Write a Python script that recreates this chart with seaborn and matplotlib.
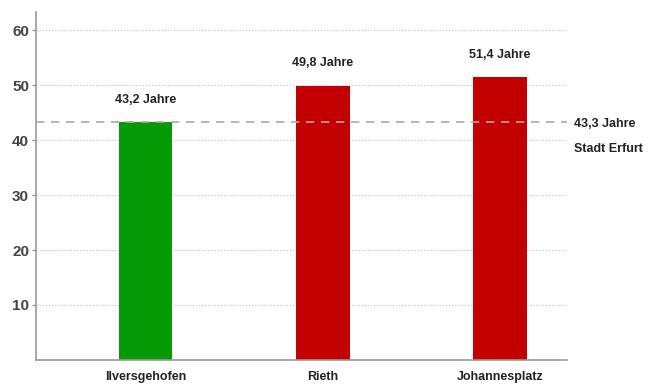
import matplotlib
matplotlib.use("Agg")
import matplotlib.pyplot as plt
import seaborn as sns
import pandas as pd

# Durchschnittsalter je Stadtteil
stadtteile = ["Ilversgehofen", "Rieth", "Johannesplatz"]
alter = [43.2, 49.8, 51.4]
farben = ["#079a07", "#c20000", "#c20000"]
alter_label = ["43,2 Jahre", "49,8 Jahre", "51,4 Jahre"]

stadt_wert = 43.3
stadt_label = ["43,3 Jahre", "Stadt Erfurt"]

y_ticks = [10, 20, 30, 40, 50, 60]

sns.set_theme(style="white")
plt.rcParams["font.family"] = ["Liberation Sans", "DejaVu Sans"]

df = pd.DataFrame({"Stadtteil": stadtteile, "Alter": alter})

fig = plt.figure(figsize=(6.69, 3.85), dpi=100)
ax = fig.add_axes([0.054, 0.065, 0.794, 0.904])

sns.barplot(data=df, x="Stadtteil", y="Alter", hue="Stadtteil",
            palette=farben, width=0.3, legend=False, ax=ax,
            edgecolor="none", saturation=1)

ax.set_xlim(-0.62, 2.38)
ax.set_ylim(0, 63.3)
ax.set_yticks(y_ticks)
ax.set_yticklabels([str(t) for t in y_ticks], fontsize=11, color="#444444",
                   fontweight="bold")
ax.tick_params(axis="y", length=3, width=0.8, color="#888888", pad=2, left=True)
ax.tick_params(axis="x", length=0, pad=8)
for lbl in ax.get_xticklabels():
    lbl.set_fontsize(9)
    lbl.set_fontweight("bold")
    lbl.set_color("#222222")
ax.set_xlabel("")
ax.set_ylabel("")

# gepunktete Gitterlinien
for t in y_ticks:
    ax.axhline(t, color="#c4c4c4", linestyle=(0, (1, 1.5)), linewidth=0.9, zorder=0)

# Referenzlinie Stadt Erfurt
ax.axhline(stadt_wert, color="#aaaaaa", linestyle=(0, (5, 4)), linewidth=1.2, zorder=3)
ax.text(1.013, stadt_wert - 0.3, stadt_label[0], transform=ax.get_yaxis_transform(),
        fontsize=9, fontweight="bold", color="#222222", va="center", ha="left", clip_on=False)
ax.text(1.013, stadt_wert - 5.0, stadt_label[1], transform=ax.get_yaxis_transform(),
        fontsize=9, fontweight="bold", color="#222222", va="center", ha="left", clip_on=False)

# Wertebeschriftungen
for i, (v, txt) in enumerate(zip(alter, alter_label)):
    ax.annotate(txt, (i, v), xytext=(0, 12), textcoords="offset points",
                ha="center", va="bottom", fontsize=9, fontweight="bold", color="#222222")

for side in ["top", "right"]:
    ax.spines[side].set_visible(False)
ax.spines["left"].set_color("#999999")
ax.spines["left"].set_linewidth(1.2)
ax.spines["bottom"].set_color("#999999")
ax.spines["bottom"].set_linewidth(1.2)

fig.savefig("out.png", dpi=100)
